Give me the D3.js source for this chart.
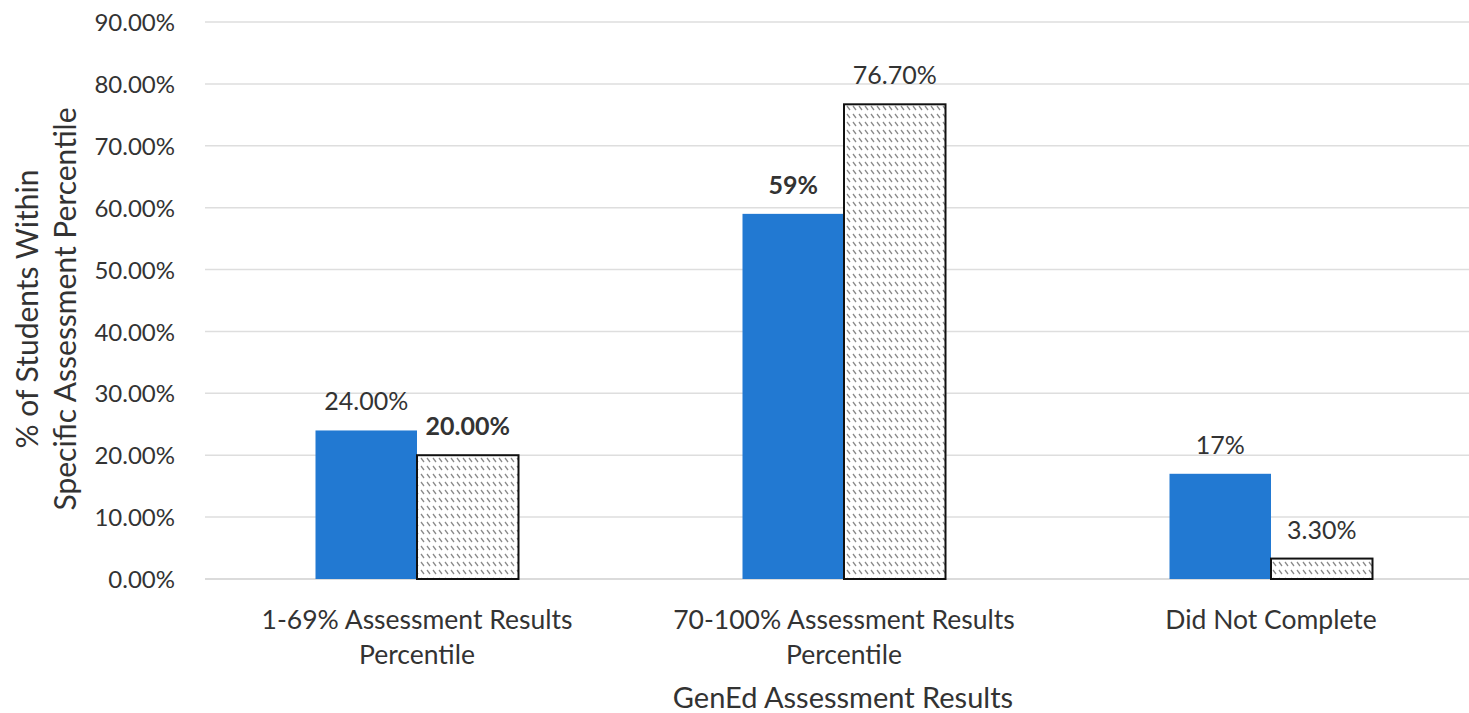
<!DOCTYPE html>
<html><head><meta charset="utf-8">
<script src="https://cdn.jsdelivr.net/npm/d3@7/dist/d3.min.js"></script>
<style>body{margin:0;background:#fff}svg{display:block}</style>
</head><body><svg id="c" width="1469" height="713"></svg>
<script>
const categories = [["1-69% Assessment Results","Percentile"],["70-100% Assessment Results","Percentile"],["Did Not Complete"]];
const seriesA = [24.0, 59.0, 17.0];
const seriesB = [20.0, 76.7, 3.3];
const labelsA = ["24.00%","59%","17%"];
const labelsB = ["20.00%","76.70%","3.30%"];
const boldA = [false,true,false];
const boldB = [true,false,false];
const yTicks = [0,10,20,30,40,50,60,70,80,90];
const yTitle = ["% of Students Within","Specific Assessment Percentile"];
const xTitle = "GenEd Assessment Results";

const font = "Lato, 'Open Sans', sans-serif";
const txt = "#333";
const svg = d3.select("#c");
const defs = svg.append("defs");
const pat = defs.append("pattern").attr("id","hatch").attr("patternUnits","userSpaceOnUse")
  .attr("width",6).attr("height",8);
pat.append("rect").attr("width",6).attr("height",8).attr("fill","#fff");
pat.append("line").attr("x1",1).attr("y1",2).attr("x2",4).attr("y2",6)
  .attr("stroke","#8a8a8a").attr("stroke-width",1.3);

const x0 = d3.scaleBand().domain(d3.range(categories.length)).range([203.5,1484.5]);
const x1 = d3.scaleBand().domain([0,1]).range([0,203]);
const xOff = (x0.bandwidth()-203)/2;
const y = d3.scaleLinear().domain([0,90]).range([579,22]);

// gridlines
svg.append("g").selectAll("line").data(yTicks).join("line")
  .attr("x1",205).attr("x2",1469).attr("y1",d=>y(d)).attr("y2",d=>y(d))
  .attr("stroke",d=>d===0?"#cfcfcf":"#dedede").attr("stroke-width",1.5);

// y axis labels
const yAxis = d3.axisLeft(y).tickValues(yTicks).tickFormat(d=>d.toFixed(2)+"%").tickSize(0).tickPadding(0);
const ga = svg.append("g").attr("transform","translate(175,0)").call(yAxis);
ga.select(".domain").remove();
ga.selectAll("text").attr("font-family",font).attr("font-size",24).attr("fill",txt).attr("dy","0.36em");

// bars
const g = svg.append("g");
categories.forEach((c,i)=>{
  const bx = x0(i)+xOff;
  g.append("rect").attr("x",bx+x1(0)).attr("y",y(seriesA[i])).attr("width",x1.bandwidth())
    .attr("height",y(0)-y(seriesA[i])).attr("fill","#2279d2");
  g.append("rect").attr("x",bx+x1(1)).attr("y",y(seriesB[i])).attr("width",x1.bandwidth())
    .attr("height",y(0)-y(seriesB[i])).attr("fill","url(#hatch)").attr("stroke","#111").attr("stroke-width",2);
  g.append("text").attr("x",bx+x1(0)+x1.bandwidth()/2).attr("y",y(seriesA[i])-29).attr("dy","0.36em")
    .attr("text-anchor","middle").attr("font-family",font).attr("font-size",25).attr("fill",txt)
    .attr("font-weight",boldA[i]?"bold":"normal").text(labelsA[i]);
  g.append("text").attr("x",bx+x1(1)+x1.bandwidth()/2).attr("y",y(seriesB[i])-29).attr("dy","0.36em")
    .attr("text-anchor","middle").attr("font-family",font).attr("font-size",25).attr("fill",txt)
    .attr("font-weight",boldB[i]?"bold":"normal").text(labelsB[i]);
  // category label
  const t = svg.append("text").attr("text-anchor","middle").attr("font-family",font).attr("font-size",26.5).attr("fill",txt);
  c.forEach((line,k)=>t.append("tspan").attr("x",x0(i)+x0.bandwidth()/2).attr("y",619+k*35).attr("dy","0.36em").text(line));
});

// axis titles
svg.append("text").attr("x",843).attr("y",698).attr("dy","0.36em").attr("text-anchor","middle")
  .attr("font-family",font).attr("font-size",29).attr("fill",txt).text(xTitle);
yTitle.forEach((line,k)=>{
  svg.append("text").attr("transform",`translate(${27+k*38},309) rotate(-90)`).attr("dy","0.36em")
    .attr("text-anchor","middle").attr("font-family",font).attr("font-size",30).attr("fill",txt).text(line);
});
</script></body></html>
